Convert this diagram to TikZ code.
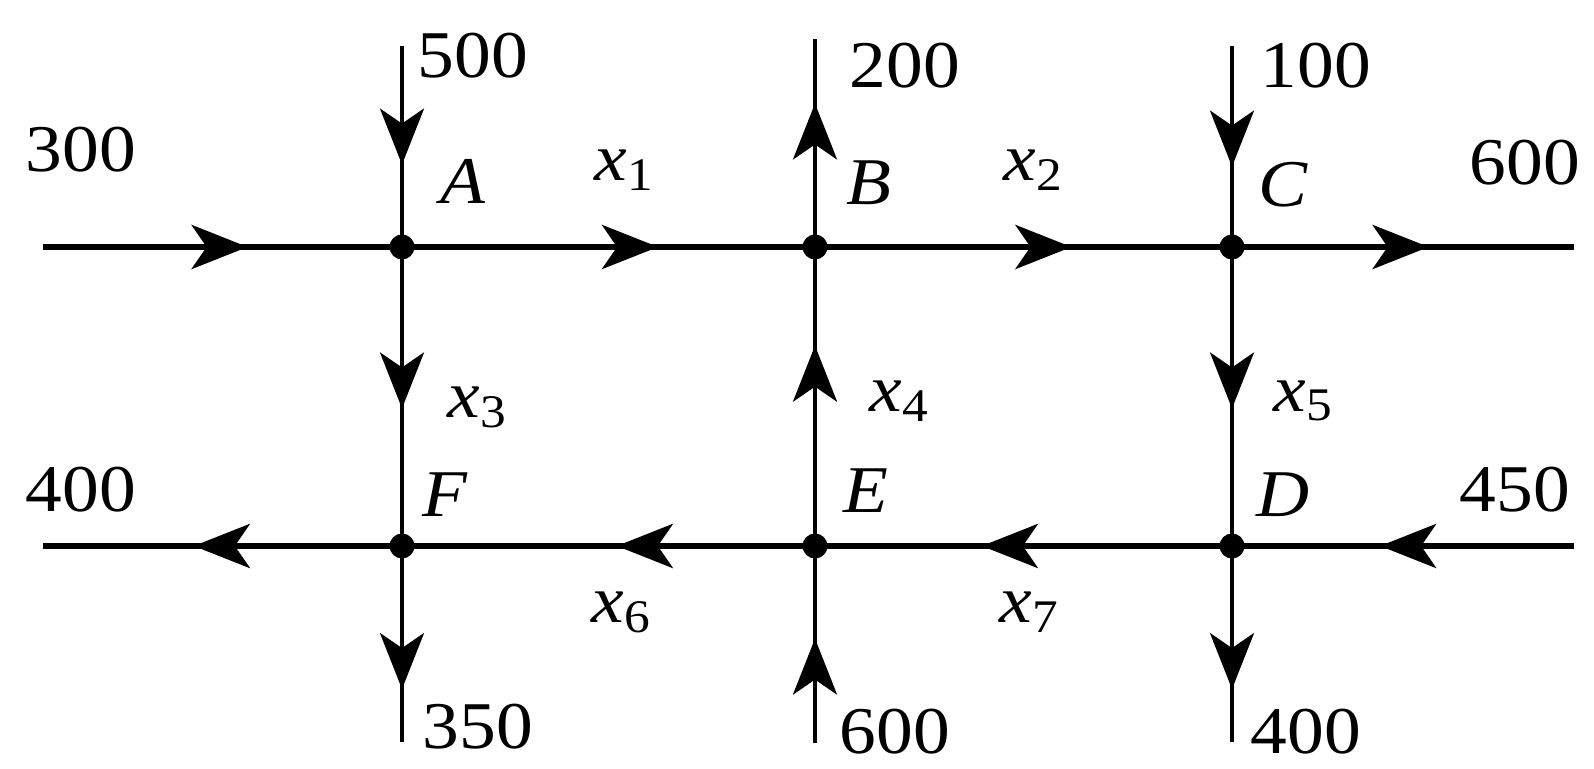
\documentclass[tikz,border=0pt]{standalone}
\usepackage{fontspec}
\setmainfont[FakeStretch=1.1]{Liberation Serif}
\usetikzlibrary{arrows.meta, decorations.markings}

\begin{document}
\begin{tikzpicture}[
    junction/.style={circle, fill=black, inner sep=0pt, minimum size=0.25cm},
    flow/.style={postaction={decorate}, decoration={markings,
      mark=at position #1 with {\arrow{Stealth[length=0.56cm, width=0.44cm, inset=0.15cm]}}}},
    street/.style={line width=1.7pt},
    avenue/.style={line width=1.1pt},
    lbl/.style={font=\fontsize{19}{22}\selectfont, inner sep=0pt},
  ]
  \useasboundingbox (0,0) rectangle (15.94,7.68);
  % intersections
  \node[junction] (A) at (4.02,5.21) {};
  \node[junction] (B) at (8.15,5.21) {};
  \node[junction] (C) at (12.32,5.21) {};
  \node[junction] (F) at (4.02,2.22) {};
  \node[junction] (E) at (8.15,2.22) {};
  \node[junction] (D) at (12.32,2.22) {};
  % free ends
  \coordinate (wA) at (0.43,5.21);
  \coordinate (eC) at (15.74,5.21);
  \coordinate (wF) at (0.43,2.22);
  \coordinate (eD) at (15.74,2.22);
  \coordinate (nA) at (4.02,7.22);
  \coordinate (nB) at (8.15,7.29);
  \coordinate (nC) at (12.32,7.22);
  \coordinate (sF) at (4.02,0.26);
  \coordinate (sE) at (8.15,0.25);
  \coordinate (sD) at (12.32,0.26);
  % streets
  \draw[street, flow=0.57] (wA) -- (A.center);
  \draw[street, flow=0.62] (A.center) -- (B.center);
  \draw[street, flow=0.615] (B.center) -- (C.center);
  \draw[street, flow=0.575] (C.center) -- (eC);
  \draw[street, flow=0.567] (eD) -- (D.center);
  \draw[street, flow=0.60] (D.center) -- (E.center);
  \draw[street, flow=0.48] (E.center) -- (F.center);
  \draw[street, flow=0.58] (F.center) -- (wF);
  % avenues
  \draw[avenue, flow=0.59] (nA) -- (A.center);
  \draw[avenue, flow=0.54] (A.center) -- (F.center);
  \draw[avenue, flow=0.73] (F.center) -- (sF);
  \draw[avenue, flow=0.53] (sE) -- (E.center);
  \draw[avenue, flow=0.67] (E.center) -- (B.center);
  \draw[avenue, flow=0.69] (B.center) -- (nB);
  \draw[avenue, flow=0.60] (nC) -- (C.center);
  \draw[avenue, flow=0.54] (C.center) -- (D.center);
  \draw[avenue, flow=0.73] (D.center) -- (sD);
  % names
  \node[lbl] (lA) at (4.63,5.87) {\itshape A};
  \node[lbl] (lB) at (8.69,5.85) {\itshape B};
  \node[lbl] (lC) at (12.83,5.83) {\itshape C};
  \node[lbl] (lF) at (4.45,2.73) {\itshape F};
  \node[lbl] (lE) at (8.66,2.77) {\itshape E};
  \node[lbl] (lD) at (12.83,2.73) {\itshape D};
  % unknown flows
  \node[lbl] (x1) at (6.25,5.98) {\itshape x\textsubscript{\upshape 1}};
  \node[lbl] (x2) at (10.34,5.98) {\itshape x\textsubscript{\upshape 2}};
  \node[lbl] (x3) at (4.78,3.61) {\itshape x\textsubscript{\upshape 3}};
  \node[lbl] (x4) at (9.00,3.67) {\itshape x\textsubscript{\upshape 4}};
  \node[lbl] (x5) at (13.04,3.67) {\itshape x\textsubscript{\upshape 5}};
  \node[lbl] (x6) at (6.22,1.56) {\itshape x\textsubscript{\upshape 6}};
  \node[lbl] (x7) at (10.30,1.56) {\itshape x\textsubscript{\upshape 7}};
  % known flows
  \node[lbl] (in300) at (0.81,6.18) {300};
  \node[lbl] (in500) at (4.73,7.12) {500};
  \node[lbl] (out200) at (9.05,7.02) {200};
  \node[lbl] (in100) at (13.16,7.02) {100};
  \node[lbl] (out600) at (15.25,6.05) {600};
  \node[lbl] (out400w) at (0.81,2.78) {400};
  \node[lbl] (in450) at (15.15,2.78) {450};
  \node[lbl] (out350) at (4.78,0.41) {350};
  \node[lbl] (in600) at (8.95,0.36) {600};
  \node[lbl] (out400s) at (13.06,0.36) {400};
\end{tikzpicture}
\end{document}
